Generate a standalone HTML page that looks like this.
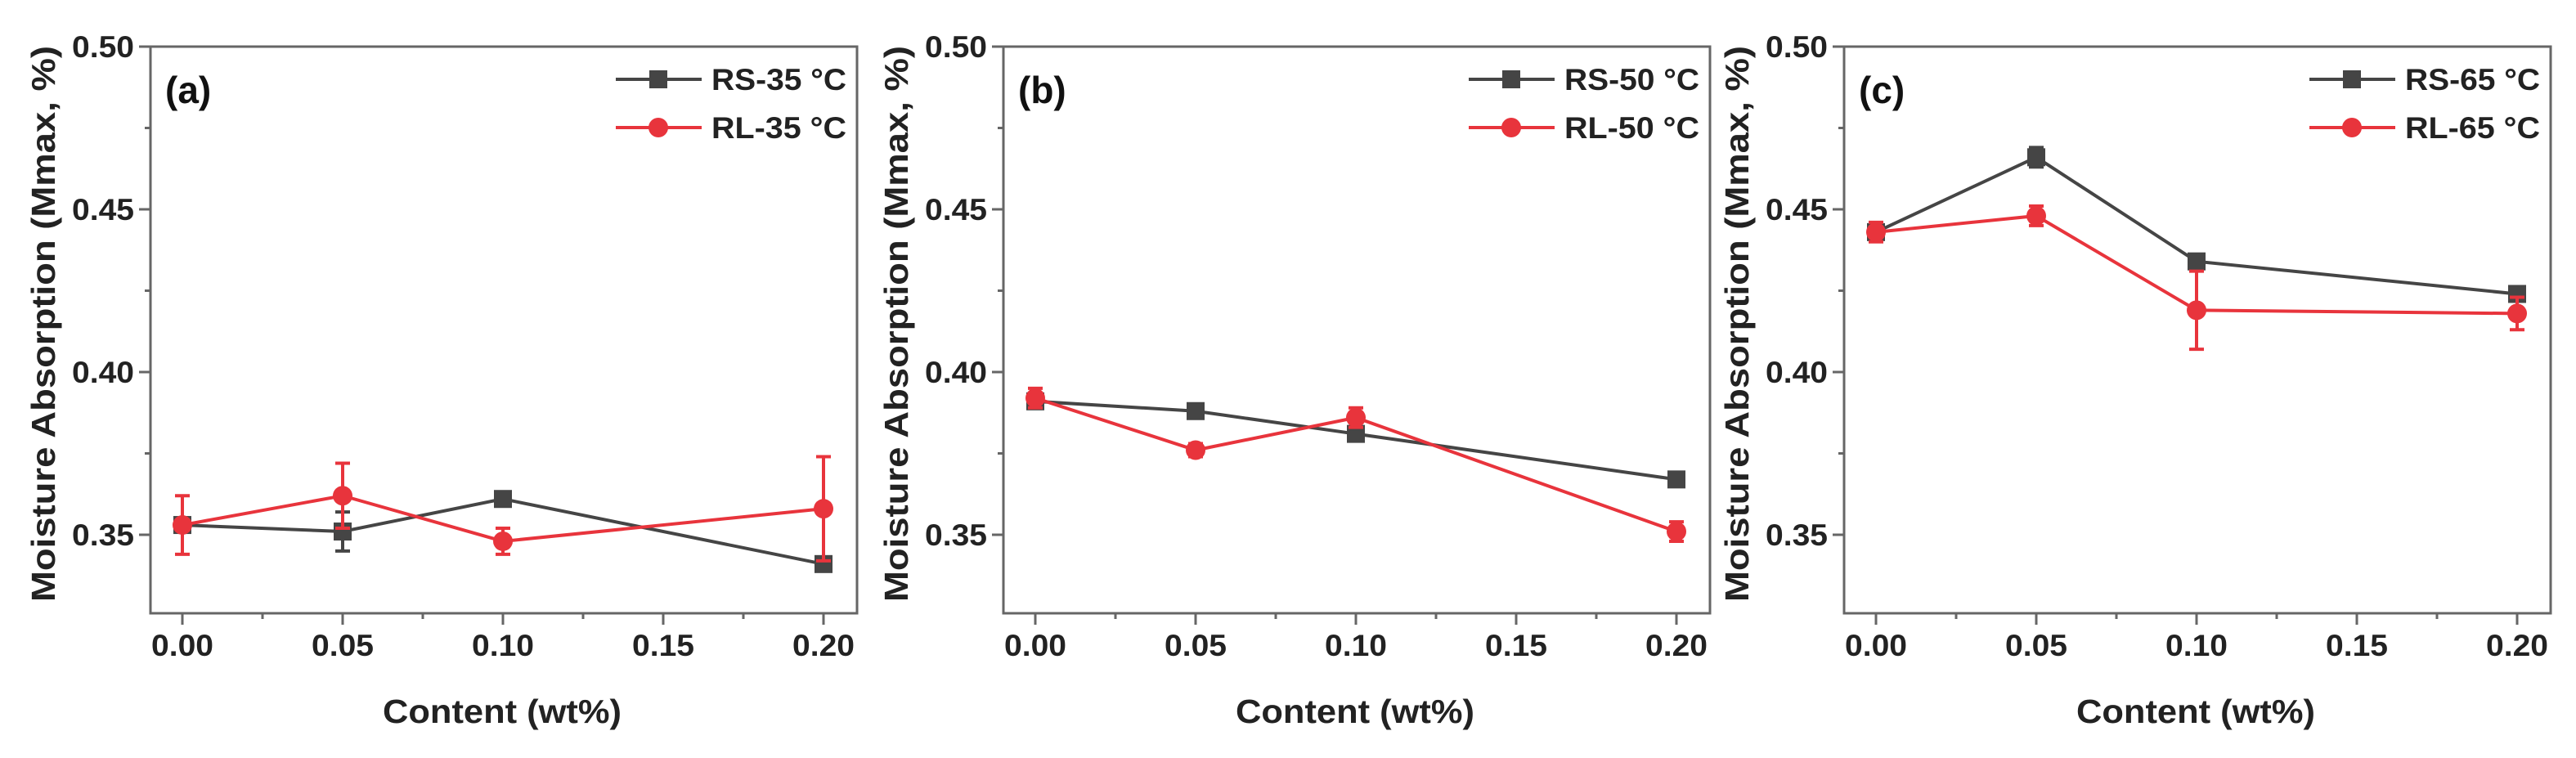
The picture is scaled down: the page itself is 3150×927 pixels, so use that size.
<!DOCTYPE html>
<html><head><meta charset="utf-8"><style>
html,body{margin:0;padding:0;background:#fff;}
svg{display:block;font-family:"Liberation Sans",sans-serif;font-weight:bold;}
</style></head><body>
<svg id="chart" width="3150" height="927" viewBox="0 0 3150 927" xmlns="http://www.w3.org/2000/svg"></svg>
<script>
const categories = [0.00, 0.05, 0.10, 0.20];
const xTicks = [0.00, 0.05, 0.10, 0.15, 0.20];
const xTickLabels = ["0.00","0.05","0.10","0.15","0.20"];
const yTicks = [0.35, 0.40, 0.45, 0.50];
const yTickLabels = ["0.35","0.40","0.45","0.50"];
const panelLabels = ["(a)","(b)","(c)"];
const rsNames = ["RS-35 °C","RS-50 °C","RS-65 °C"];
const rlNames = ["RL-35 °C","RL-50 °C","RL-65 °C"];
const rsA = [0.353, 0.351, 0.361, 0.341];
const rsAErr = [0.002, 0.006, 0.002, 0.002];
const rlA = [0.353, 0.362, 0.348, 0.358];
const rlAErr = [0.009, 0.010, 0.004, 0.016];
const rsB = [0.391, 0.388, 0.381, 0.367];
const rsBErr = [0.002, 0.002, 0.002, 0.002];
const rlB = [0.392, 0.376, 0.386, 0.351];
const rlBErr = [0.003, 0.002, 0.003, 0.003];
const rsC = [0.443, 0.466, 0.434, 0.424];
const rsCErr = [0.002, 0.003, 0.002, 0.002];
const rlC = [0.443, 0.448, 0.419, 0.418];
const rlCErr = [0.003, 0.003, 0.012, 0.005];

const svg = document.getElementById('chart');
const NS = 'http://www.w3.org/2000/svg';
function mk(tag, attrs, parent){ const e=document.createElementNS(NS,tag); for(const k in attrs) e.setAttribute(k,attrs[k]); (parent||svg).appendChild(e); return e; }

const offsets = [0, 1043, 2071];
const RS_COLOR = '#454545', RL_COLOR = '#e8343c', AX = '#666';
const panels = [[rsA,rsAErr,rlA,rlAErr],[rsB,rsBErr,rlB,rlBErr],[rsC,rsCErr,rlC,rlCErr]];

panels.forEach((p, i) => {
  const ox = offsets[i];
  const L = 184+ox, R = 1048+ox, T = 57, B = 750;
  const xs = v => 223 + ox + (v - 0) * (196/0.05);
  const ys = v => 57 + (0.50 - v) * (199/0.05);
  const g = mk('g', {});
  
  
  const frame = mk('rect', {x:L, y:T, width:R-L, height:B-T, fill:'none', stroke:AX, 'stroke-width':3}, g);
  
  
  for (let k = 0; k <= 7; k++) {
    const v = 0.325 + k*0.025;
    const major = k % 2 === 1;
    if (ys(v) > B) continue;
    mk('line', {x1:L, x2:L-(major?14:7), y1:ys(v), y2:ys(v), stroke:AX, 'stroke-width':3}, g);
  }
  yTicks.forEach((v, k) => {
    const t = mk('text', {x:L-20, y:ys(v)+13, 'text-anchor':'end', 'font-size':37, fill:'#222', textLength:76, lengthAdjust:'spacingAndGlyphs'}, g);
    t.textContent = yTickLabels[k];
    
    
  });
  for (let k = 0; k <= 8; k++) {
    const v = k*0.025;
    const major = k % 2 === 0;
    mk('line', {x1:xs(v), x2:xs(v), y1:B, y2:B+(major?14:7), stroke:AX, 'stroke-width':3}, g);
  }
  xTicks.forEach((v, k) => {
    const t = mk('text', {x:xs(v), y:802, 'text-anchor':'middle', 'font-size':37, fill:'#222', textLength:76, lengthAdjust:'spacingAndGlyphs'}, g);
    t.textContent = xTickLabels[k];
    
    
  });
  const xt = mk('text', {x:614+ox, y:884, 'text-anchor':'middle', 'font-size':41, fill:'#222', textLength:292, lengthAdjust:'spacingAndGlyphs'}, g);
  xt.textContent = 'Content (wt%)';
  
  
  const yt = mk('text', {x:0, y:0, 'text-anchor':'middle', 'font-size':41, fill:'#222', textLength:680, lengthAdjust:'spacingAndGlyphs', transform:`translate(${67+ox},396) rotate(-90)`}, g);
  yt.textContent = 'Moisture Absorption (Mmax,  %)';
  
  
  const pl = mk('text', {x:202+ox, y:126, 'font-size':46, fill:'#111'}, g);
  pl.textContent = panelLabels[i];
  
  

  function series(vals, errs, color, shape, name) {
    const sg = mk('g', {}, g);
    
    
    const pts = vals.map((v,k) => xs(categories[k]) + ',' + ys(v)).join(' ');
    mk('polyline', {points:pts, fill:'none', stroke:color, 'stroke-width':4}, sg);
    vals.forEach((v,k) => {
      const x = xs(categories[k]);
      const eb = mk('path', {d:`M${x},${ys(v-errs[k])}V${ys(v+errs[k])}M${x-9},${ys(v-errs[k])}H${x+9}M${x-9},${ys(v+errs[k])}H${x+9}`, stroke:color, 'stroke-width':4, fill:'none'}, sg);
      
      
      let m;
      if (shape === 'sq') m = mk('rect', {x:x-11, y:ys(v)-11, width:22, height:22, fill:color}, sg);
      else m = mk('circle', {cx:x, cy:ys(v), r:12, fill:color}, sg);
      
      
    });
  }
  series(p[0], p[1], RS_COLOR, 'sq', 'rs-series');
  series(p[2], p[3], RL_COLOR, 'ci', 'rl-series');

  const lg = mk('g', {}, g);
  
  
  [[RS_COLOR,'sq',rsNames[i],97],[RL_COLOR,'ci',rlNames[i],156]].forEach(([c,s,n,y]) => {
    const e = mk('g', {}, lg);
    
    
    const lx = 753+ox;
    mk('line', {x1:lx, x2:lx+105, y1:y, y2:y, stroke:c, 'stroke-width':4}, e);
    if (s==='sq') mk('rect', {x:lx+41, y:y-11, width:22, height:22, fill:c}, e);
    else mk('circle', {cx:lx+52, cy:y, r:12, fill:c}, e);
    const t = mk('text', {x:lx+117, y:y+13, 'font-size':37, fill:'#222', textLength:165, lengthAdjust:'spacingAndGlyphs'}, e);
    t.textContent = n;
  });
});
</script>
</body></html>
